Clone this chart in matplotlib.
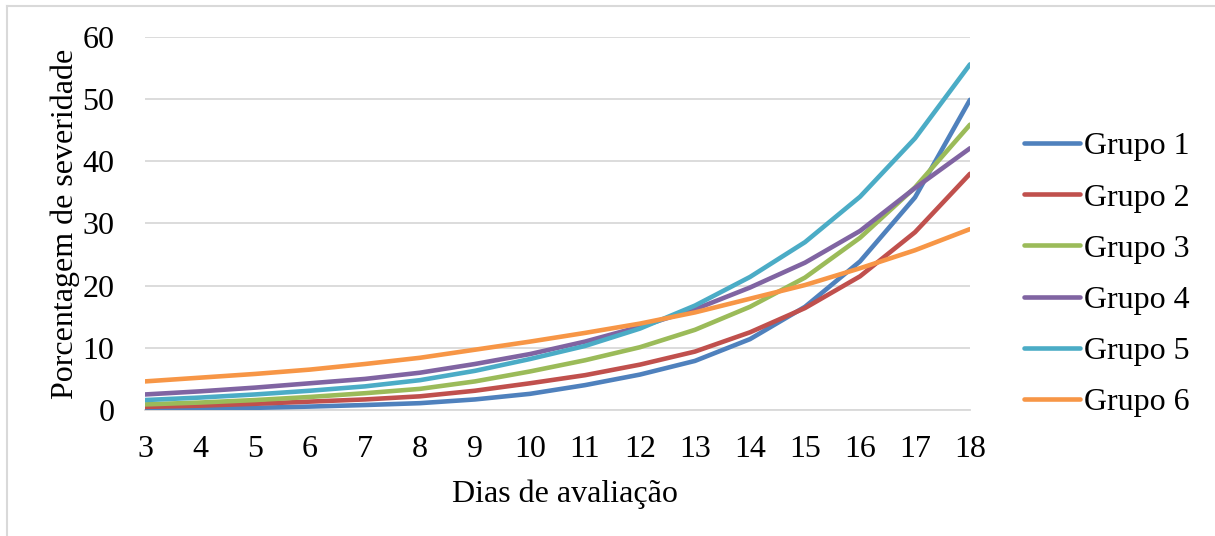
import matplotlib.pyplot as plt
from matplotlib.lines import Line2D

plt.rcParams['font.family'] = ['Liberation Serif', 'DejaVu Serif']

dias = list(range(3, 19))
grupo1 = [0.1, 0.2, 0.35, 0.55, 0.8, 1.1, 1.7, 2.6, 4.0, 5.7, 7.9, 11.4, 16.6, 23.9, 34.2, 49.9]
grupo2 = [0.5, 0.7, 1.0, 1.35, 1.7, 2.2, 3.1, 4.3, 5.6, 7.3, 9.4, 12.5, 16.4, 21.5, 28.6, 38.0]
grupo3 = [0.9, 1.2, 1.6, 2.1, 2.7, 3.4, 4.6, 6.2, 8.0, 10.1, 12.9, 16.6, 21.3, 27.7, 35.8, 45.9]
grupo4 = [2.5, 3.0, 3.6, 4.3, 5.0, 6.0, 7.4, 9.0, 11.0, 13.4, 16.2, 19.7, 23.7, 28.8, 35.7, 42.1]
grupo5 = [1.6, 2.0, 2.5, 3.1, 3.8, 4.8, 6.3, 8.2, 10.3, 13.1, 16.8, 21.4, 27.0, 34.3, 43.7, 55.6]
grupo6 = [4.6, 5.2, 5.8, 6.5, 7.4, 8.4, 9.7, 11.0, 12.4, 13.9, 15.7, 17.9, 20.1, 22.8, 25.7, 29.1]

series = [grupo1, grupo2, grupo3, grupo4, grupo5, grupo6]
nomes = ['Grupo 1', 'Grupo 2', 'Grupo 3', 'Grupo 4', 'Grupo 5', 'Grupo 6']
cores = ['#4F81BD', '#C0504D', '#9BBB59', '#8064A2', '#4BACC6', '#F79646']

fig = plt.figure(figsize=(12.15, 5.36), dpi=100)
ax = fig.add_axes([145 / 1215, 126 / 536, 825 / 1215, 373 / 536])

for vals, nome, cor in zip(series, nomes, cores):
    ax.plot(dias, vals, color=cor, lw=3.3, label=nome, solid_capstyle='round', zorder=3)

ax.set_xlim(3, 18)
ax.set_ylim(0, 60)
ax.set_xticks(dias)
ax.set_yticks(range(0, 61, 10))
ax.grid(axis='y', color='#d9d9d9', lw=1.3)
ax.set_axisbelow(True)
for s in ['top', 'right', 'left']:
    ax.spines[s].set_visible(False)
ax.spines['bottom'].set_color('#d9d9d9')
ax.spines['bottom'].set_linewidth(1.3)
ax.tick_params(axis='both', length=0, labelsize=23)
ax.tick_params(axis='y', pad=22)
ax.tick_params(axis='x', pad=18)

ax.set_xlabel('Dias de avaliação', fontsize=23)
ax.set_ylabel('Porcentagem de severidade', fontsize=23)
ax.xaxis.set_label_coords(0.509, -0.186)
ax.yaxis.set_label_coords(-0.079, 0.5)

fig.legend(loc='center left', bbox_to_anchor=(1024 / 1215, 1 - 274.5 / 536),
           frameon=False, fontsize=23, handlelength=1.75, handletextpad=0.12,
           labelspacing=0.68, borderpad=0, borderaxespad=0)

# borda do grafico
fig.add_artist(Line2D([7 / 1215, 7 / 1215], [0, 1 - 6 / 536], color='#d9d9d9', lw=1.5))
fig.add_artist(Line2D([7 / 1215, 1], [1 - 6 / 536, 1 - 6 / 536], color='#d9d9d9', lw=1.5))

plt.savefig('out.png', dpi=100)
